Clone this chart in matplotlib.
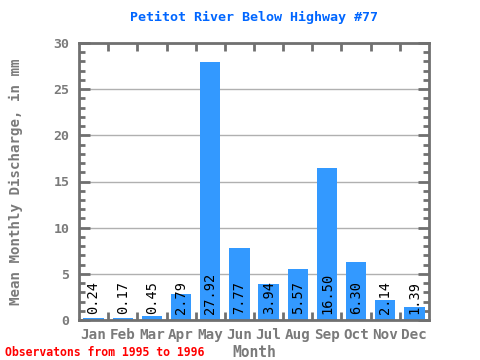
import matplotlib
matplotlib.use("Agg")
import matplotlib.pyplot as plt
from matplotlib.ticker import MultipleLocator, FixedLocator

months = ["Jan", "Feb", "Mar", "Apr", "May", "Jun", "Jul", "Aug", "Sep", "Oct", "Nov", "Dec"]
discharge = [0.24, 0.17, 0.45, 2.79, 27.92, 7.77, 3.94, 5.57, 16.50, 6.30, 2.14, 1.39]
title = "Petitot River Below Highway #77"
note = "Observatons from 1995 to 1996"

GRAY = "#7a7a7a"
SPINE = "#707070"
BLUE = "#3399ff"
MONO = "DejaVu Sans Mono"

fig = plt.figure(figsize=(4.8, 3.6), dpi=100)
ax = fig.add_axes([79 / 480, 40 / 360, 350 / 480, 277 / 360])

x = list(range(len(months)))
ax.bar(x, discharge, width=0.7, color=BLUE, zorder=2)
for xi, v in zip(x, discharge):
    ax.text(xi, 0.6, f"{v:.2f}", rotation=90, ha="center", va="bottom",
            family=MONO, fontsize=9.8, color="black", zorder=3)

ax.set_xlim(-0.5, len(months) - 0.5)
ax.set_ylim(0, 30)
ax.yaxis.set_major_locator(MultipleLocator(5))
ax.yaxis.set_minor_locator(MultipleLocator(1))
ax.set_xticks(x)
ax.set_xticklabels(months)
ax.xaxis.set_minor_locator(FixedLocator([i + 0.5 for i in range(len(months) - 1)]))

for sp in ax.spines.values():
    sp.set_color(SPINE)
    sp.set_linewidth(2)

ax.grid(axis="y", color="#b0b0b0", linewidth=1, zorder=1)
ax.tick_params(axis="x", which="major", length=0, pad=6, labelcolor=GRAY, labelsize=10.3)
ax.tick_params(axis="x", which="minor", direction="in", length=6, width=2, color=SPINE,
               top=True, bottom=True)
ax.tick_params(axis="y", which="major", direction="in", length=8, width=2, color=SPINE,
               left=True, right=True, labelcolor=GRAY, labelsize=9.5, pad=7)
ax.tick_params(axis="y", which="minor", direction="in", length=4, width=2, color=SPINE,
               left=True, right=True)
for lbl in ax.get_xticklabels() + ax.get_yticklabels():
    lbl.set_family(MONO)
    lbl.set_fontweight("bold")

ax.set_xlabel("Month", family=MONO, fontweight="bold", fontsize=10.5, color=GRAY, labelpad=2)
ax.set_ylabel("Mean Monthly Discharge, in mm", family=MONO, fontweight="bold",
              fontsize=10.2, color=GRAY, labelpad=22)
fig.text(254 / 480, 1 - 17 / 360, title, ha="center", va="center", family=MONO,
         fontweight="bold", fontsize=9.6, color="#0066ff")
fig.text(5 / 480, 1 - 352 / 360, note, ha="left", va="center", family=MONO,
         fontweight="bold", fontsize=8.3, color="red")

fig.savefig("out.png", dpi=100)
